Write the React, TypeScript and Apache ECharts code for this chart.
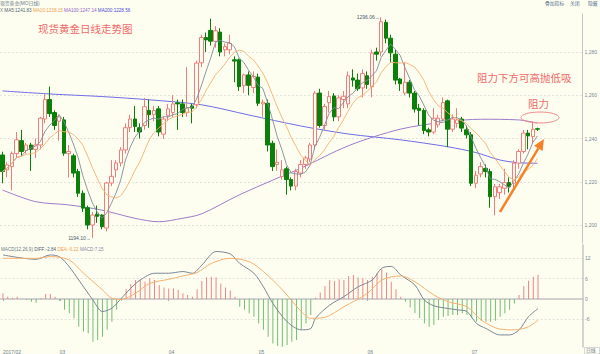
import React, { useEffect, useRef } from 'react';
import * as echarts from 'echarts';

// ---------- data ----------
const opens = [
  1232.4, 1225.5, 1227.0, 1233.0, 1239.0, 1234.5, 1237.0, 1235.0, 1237.0, 1249.0,
  1258.0, 1252.0, 1248.0, 1248.6, 1233.0, 1232.0, 1224.7, 1214.7, 1208.0, 1200.0,
  1205.0, 1204.6, 1198.6, 1219.4, 1225.5, 1228.7, 1234.7, 1245.0, 1249.0, 1245.0,
  1246.0, 1253.0, 1251.0, 1253.7, 1242.0, 1250.5, 1252.0, 1256.5, 1256.0, 1252.0,
  1255.0, 1255.6, 1275.0, 1286.7, 1290.0, 1284.9, 1289.2, 1281.0, 1281.0, 1276.4,
  1276.4, 1264.4, 1269.4, 1263.6, 1268.4, 1256.0, 1256.3, 1237.8, 1228.0, 1222.4,
  1226.0, 1221.0, 1218.0, 1224.0, 1228.0, 1230.5, 1237.0, 1261.0, 1246.0, 1256.6,
  1259.7, 1250.0, 1258.0, 1256.0, 1268.0, 1267.0, 1263.4, 1269.0, 1264.0, 1280.0,
  1280.0, 1293.7, 1286.4, 1279.0, 1267.5, 1261.0, 1266.0, 1261.0, 1254.0, 1253.0,
  1244.0, 1243.0, 1246.3, 1249.0, 1257.4, 1244.3, 1247.0, 1249.0, 1244.0, 1241.7,
  1219.3, 1223.6, 1226.2, 1224.7, 1213.1, 1215.0, 1217.0, 1219.6, 1219.3, 1228.6,
  1234.0, 1242.5, 1240.9, 1244.5,
];
const closes = [
  1224.7, 1227.8, 1233.0, 1239.4, 1234.0, 1237.0, 1235.0, 1237.0, 1249.4, 1258.0,
  1251.5, 1246.0, 1250.0, 1233.2, 1234.0, 1224.0, 1214.7, 1207.8, 1200.0, 1204.6,
  1204.0, 1199.2, 1219.4, 1222.5, 1228.7, 1234.7, 1245.0, 1249.0, 1245.6, 1243.0,
  1254.7, 1251.0, 1253.0, 1243.0, 1249.0, 1253.7, 1256.0, 1256.0, 1252.0, 1254.0,
  1254.0, 1274.9, 1286.7, 1285.6, 1285.0, 1289.8, 1280.0, 1282.5, 1284.0, 1275.8,
  1264.0, 1269.4, 1264.6, 1268.7, 1256.3, 1256.8, 1237.0, 1227.0, 1229.0, 1225.5,
  1221.0, 1218.0, 1224.7, 1228.0, 1231.0, 1237.0, 1261.0, 1246.0, 1254.8, 1259.4,
  1250.0, 1258.8, 1259.5, 1269.0, 1267.0, 1263.0, 1270.0, 1265.0, 1279.5, 1279.0,
  1294.0, 1286.4, 1279.6, 1267.0, 1265.3, 1266.0, 1261.0, 1253.6, 1253.0, 1243.7,
  1243.0, 1249.4, 1249.4, 1256.6, 1244.3, 1249.0, 1248.6, 1244.8, 1241.7, 1219.3,
  1223.0, 1227.0, 1224.7, 1213.1, 1217.7, 1217.7, 1219.6, 1217.7, 1228.6, 1234.0,
  1242.5, 1241.2, 1244.3, 1244.3,
];
const lows = [
  1219.3, 1222.0, 1216.0, 1231.0, 1232.0, 1233.0, 1225.0, 1231.0, 1235.0, 1247.0,
  1250.0, 1244.0, 1239.0, 1232.0, 1222.0, 1222.0, 1213.0, 1206.0, 1198.0, 1194.1,
  1201.0, 1198.0, 1197.0, 1218.0, 1222.0, 1227.0, 1233.0, 1243.0, 1243.0, 1240.0,
  1244.0, 1245.0, 1248.0, 1241.0, 1239.8, 1248.0, 1250.0, 1244.0, 1250.0, 1250.0,
  1247.0, 1254.0, 1273.0, 1280.0, 1283.0, 1282.0, 1278.0, 1278.0, 1279.0, 1266.0,
  1262.0, 1261.0, 1260.0, 1261.0, 1255.0, 1250.0, 1234.0, 1225.0, 1225.0, 1221.0,
  1214.0, 1216.0, 1216.0, 1222.0, 1226.0, 1229.0, 1235.0, 1245.0, 1244.0, 1252.0,
  1248.0, 1248.0, 1254.0, 1254.0, 1264.0, 1262.0, 1259.0, 1263.0, 1259.0, 1276.0,
  1278.0, 1284.0, 1275.0, 1265.0, 1262.0, 1260.0, 1259.0, 1252.0, 1246.0, 1242.0,
  1241.0, 1242.0, 1245.0, 1248.0, 1236.0, 1243.0, 1245.0, 1243.0, 1240.0, 1218.0,
  1217.0, 1222.0, 1222.0, 1208.0, 1204.5, 1212.0, 1214.0, 1215.0, 1216.0, 1226.0,
  1233.0, 1235.0, 1238.0, 1243.5,
];
const highs = [
  1233.9, 1229.0, 1234.0, 1243.0, 1244.0, 1238.0, 1238.0, 1240.0, 1250.0, 1260.6,
  1264.0, 1253.0, 1251.0, 1250.0, 1237.0, 1233.0, 1226.0, 1216.0, 1209.0, 1206.0,
  1209.0, 1205.0, 1220.0, 1230.0, 1230.0, 1236.0, 1247.0, 1251.0, 1255.0, 1247.0,
  1258.8, 1258.0, 1255.0, 1255.0, 1250.0, 1256.0, 1260.0, 1258.0, 1258.0, 1273.0,
  1256.0, 1276.0, 1288.0, 1289.0, 1295.4, 1292.0, 1291.0, 1284.0, 1288.0, 1278.0,
  1277.0, 1270.0, 1271.0, 1271.0, 1270.0, 1258.0, 1258.0, 1239.0, 1235.0, 1230.0,
  1227.0, 1222.0, 1226.0, 1230.0, 1232.0, 1238.0, 1262.0, 1263.0, 1256.0, 1262.0,
  1261.0, 1260.0, 1262.0, 1271.0, 1272.0, 1270.0, 1272.0, 1271.0, 1281.0, 1282.0,
  1296.06, 1295.0, 1288.0, 1281.0, 1268.0, 1275.0, 1267.0, 1262.0, 1256.0, 1254.0,
  1245.0, 1254.0, 1251.0, 1259.0, 1258.0, 1251.0, 1254.0, 1250.0, 1246.0, 1243.0,
  1225.0, 1229.0, 1228.0, 1226.0, 1219.0, 1219.0, 1226.0, 1222.0, 1230.0, 1235.0,
  1244.0, 1244.0, 1247.8, 1245.0,
];
// MA100 / MA200 read at sample candles: [candle index, value]
const ma100Points = [
  [0, 1216.2], [7, 1210.8], [14, 1209.3], [21, 1206.9], [28, 1203.1], [33, 1201.5],
  [38, 1203.1], [42, 1205.1], [50, 1213.9], [58, 1221.6], [63, 1226.2], [73, 1236.6],
  [84, 1244.3], [94, 1247.8], [101, 1248.9], [109, 1248.6], [113, 1247.14],
];
const ma200Points = [
  [0, 1262.0], [10, 1260.6], [21, 1259.4], [31, 1257.9], [42, 1255.6], [52, 1250.9],
  [63, 1245.8], [73, 1242.1], [84, 1239.4], [94, 1236.2], [100, 1233.5], [105, 1230.1],
  [109, 1228.8], [113, 1228.56],
];
// MACD histogram, one bar per candle
const macdHist = [
  1.7, 0.7, 0.4, 0.7, 0.1, -0.3, -0.8, -1.1, 0.3, 1.5,
  1.5, 0.7, -0.6, -3.2, -4.2, -5.7, -8.2, -9.6, -10.1, -12.6,
  -12.1, -11.1, -9.1, -6.7, -3.2, -0.5, 2.9, 4.4, 5.6, 5.8,
  5.1, 6.1, 5.6, 4.1, 3.4, 3.1, 3.1, 2.7, 1.7, 1.2,
  0.7, 2.9, 5.3, 6.4, 6.6, 6.4, 4.6, 3.4, 2.5, 0.7,
  -2.3, -3.2, -4.2, -5.2, -7.2, -9.1, -11.1, -13.1, -13.9, -14.1,
  -13.6, -12.6, -12.1, -9.1, -7.2, -4.7, 0.4, 1.9, 3.8, 5.6,
  5.3, 5.8, 5.6, 6.8, 7.1, 6.4, 6.1, 5.6, 6.6, 7.6,
  8.8, 7.8, 5.1, 2.9, 0.7, -0.8, -2.5, -4.2, -5.7, -7.2,
  -8.2, -7.7, -6.2, -5.2, -5.0, -4.7, -4.7, -4.2, -4.7, -5.7,
  -6.7, -6.4, -6.7, -6.7, -6.4, -5.2, -4.2, -3.2, -1.3, 1.2,
  3.8, 5.4, 6.6, 7.15,
];
const difPoints = [
  [0, 13.0], [7, 11.7], [10, 13.0], [12, 12.4], [14, 9.5], [16, 5.6], [19, -0.3],
  [21, -3.7], [23, -2.7], [25, 0.2], [27, 3.2], [29, 5.6], [32, 7.6], [35, 7.6],
  [38, 8.1], [40, 7.6], [42, 10.0], [45, 14.0], [48, 13.3], [50, 10.5], [53, 7.6],
  [55, 3.6], [57, -1.3], [60, -6.7], [63, -9.1], [65, -8.7], [66, -5.7], [69, -1.8],
  [72, 0.7], [75, 3.6], [78, 5.6], [80, 9.1], [82, 9.6], [84, 7.1], [87, 4.1],
  [89, -0.3], [91, -2.0], [94, -2.8], [96, -3.2], [98, -3.7], [100, -7.2], [102, -8.7],
  [105, -10.6], [107, -10.6], [109, -9.1], [111, -5.2], [113, -2.84],
];
const deaPoints = [
  [0, 12.0], [7, 12.0], [10, 12.5], [14, 11.5], [17, 7.6], [21, 2.7], [23, 0.2],
  [25, -0.1], [28, 1.7], [31, 4.6], [35, 5.8], [38, 6.8], [41, 7.8], [44, 10.5],
  [48, 12.0], [52, 11.0], [55, 8.1], [59, 2.7], [63, -3.7], [65, -5.7], [68, -5.4],
  [72, -2.3], [77, 1.7], [80, 5.6], [84, 6.8], [87, 5.1], [91, 1.2], [94, -0.8],
  [98, -2.3], [101, -6.2], [105, -8.9], [108, -9.1], [111, -8.2], [113, -6.22],
];
const monthTicks: Record<number, string> = { 0: '2017/02', 12: '03', 35: '04', 54: '05', 77: '06', 99: '07' };
const priceTicks = [1200, 1220, 1240, 1260, 1280];
const macdTicks = [12, 6, 0, -6];
const SLOTS = 123;

// ---------- helpers ----------
function movingAvg(n: number) {
  return closes.map((_, i) => {
    const s = Math.max(0, i - n + 1);
    let sum = 0;
    for (let j = s; j <= i; j++) sum += closes[j];
    return +(sum / (i - s + 1)).toFixed(2);
  });
}

const BG = '#FEFEF0';
const UP = '#F27C7C';
const DOWN = '#0A800A';
const CJK = '"Noto Sans CJK SC", "DejaVu Sans", sans-serif';
const SMALL = '"Liberation Sans", "Noto Sans CJK SC", sans-serif';

export default function App() {
  const ref = useRef<HTMLDivElement>(null);
  useEffect(() => {
    if (!ref.current) return;
    const chart = echarts.init(ref.current, null, { renderer: 'svg' });
    const cats = Array.from({ length: SLOTS }, (_, i) => String(i));
    const ma5 = movingAvg(5);
    const ma10 = movingAvg(10);
    const candle = opens.map((o, i) => [o, closes[i], lows[i], highs[i]]);
    const showTick = (i: number) => monthTicks[i] !== undefined;

    const arrowFrom = [500, 212];
    const arrowTip = [544, 139];
    const dx = arrowTip[0] - arrowFrom[0];
    const dy = arrowTip[1] - arrowFrom[1];
    const len = Math.sqrt(dx * dx + dy * dy);
    const ux = dx / len, uy = dy / len;
    const bx = arrowTip[0] - ux * 11, by = arrowTip[1] - uy * 11;
    const px = -uy, py = ux;

    const smallText = (x: number, y: number, text: string, fill: string, size = 5) => ({
      type: 'text', x, y, z: 50,
      style: { text, fill, fontSize: size, fontFamily: SMALL, textVerticalAlign: 'middle' },
    });
    const richRow = (x: number, y: number, text: string, rich: Record<string, string>) => {
      const r: Record<string, any> = {};
      Object.keys(rich).forEach((k) => {
        r[k] = { fill: rich[k], fontSize: 4.6, fontFamily: SMALL };
      });
      return {
        type: 'text', x, y, z: 50,
        style: { text, rich: r, fontSize: 4.6, fontFamily: SMALL, textVerticalAlign: 'middle' },
      };
    };

    chart.setOption({
      animation: false,
      backgroundColor: BG,
      grid: [
        { left: 0, right: 17, top: 14, height: 229 },
        { left: 0, right: 17, top: 245, height: 102 },
      ],
      xAxis: [
        {
          type: 'category', gridIndex: 0, data: cats, boundaryGap: true,
          axisLine: { show: false }, axisTick: { show: false }, axisLabel: { show: false },
          splitLine: { show: false },
        },
        {
          type: 'category', gridIndex: 1, data: cats, boundaryGap: true,
          axisLine: { show: true, lineStyle: { color: '#C4C4C4', width: 1.5 } },
          axisTick: { show: true, interval: (i: number) => showTick(i), length: 2, alignWithLabel: true, lineStyle: { color: '#A8B0B8' } },
          axisLabel: {
            show: true, interval: (i: number) => showTick(i),
            formatter: (_v: string, i: number) => monthTicks[i] ?? '',
            align: 'left', fontSize: 5, color: '#6E7E8E', margin: 2, fontFamily: SMALL,
          },
          splitLine: { show: false },
        },
      ],
      yAxis: [
        {
          type: 'value', gridIndex: 0, position: 'right', min: 1191.68, max: 1297.57, scale: true,
          axisLine: { show: true, lineStyle: { color: '#C4C4C4' } },
          axisTick: { show: false, customValues: priceTicks },
          axisLabel: { customValues: priceTicks, fontSize: 5, color: '#7A8A9A', margin: 2, fontFamily: SMALL },
          splitLine: { show: true, lineStyle: { color: '#DADADA', type: [2, 2], width: 0.8 } },
        },
        {
          type: 'value', gridIndex: 1, position: 'right', min: -14.16, max: 15.93,
          axisLine: { show: true, lineStyle: { color: '#C4C4C4', width: 1.5 } },
          axisTick: { show: false, customValues: macdTicks },
          axisLabel: { customValues: macdTicks, fontSize: 5, color: '#7A8A9A', margin: 2, fontFamily: SMALL },
          splitLine: { show: true, lineStyle: { color: '#DADADA', type: [2, 2], width: 0.8 } },
        },
      ],
      series: [
        {
          type: 'line', name: 'MA200', xAxisIndex: 0, yAxisIndex: 0, data: ma200Points,
          smooth: 0.3, showSymbol: false, symbol: 'none', lineStyle: { color: '#6E6EE6', width: 1 }, z: 1,
        },
        {
          type: 'line', name: 'MA100', xAxisIndex: 0, yAxisIndex: 0, data: ma100Points,
          smooth: 0.3, showSymbol: false, symbol: 'none', lineStyle: { color: '#9C7CCC', width: 1 }, z: 1,
        },
        {
          type: 'candlestick', xAxisIndex: 0, yAxisIndex: 0, data: candle, barWidth: 4, z: 3,
          itemStyle: { color: BG, color0: DOWN, borderColor: UP, borderColor0: DOWN, borderWidth: 1 },
          markPoint: {
            symbol: 'rect', symbolSize: 1,
            itemStyle: { color: 'rgba(0,0,0,0)' },
            label: {
              show: true, position: 'left', distance: 1, fontSize: 5, color: '#4A5A6E', fontFamily: SMALL,
              formatter: (p: any) => Number(p.value).toFixed(2) + '\u2192',
            },
            data: [
              { type: 'max', valueDim: 'highest' },
              { type: 'min', valueDim: 'lowest' },
            ],
          },
        },
        {
          type: 'line', name: 'MA5', xAxisIndex: 0, yAxisIndex: 0, data: ma5,
          showSymbol: false, symbol: 'none', lineStyle: { color: '#808C9A', width: 0.9 }, z: 4,
        },
        {
          type: 'line', name: 'MA10', xAxisIndex: 0, yAxisIndex: 0, data: ma10,
          showSymbol: false, symbol: 'none', lineStyle: { color: '#F6B070', width: 0.9 }, z: 4,
        },
        {
          type: 'bar', xAxisIndex: 1, yAxisIndex: 1, barWidth: 1,
          data: macdHist.map((v) => ({ value: v, itemStyle: { color: v >= 0 ? '#F08484' : '#72BE72' } })),
        },
        {
          type: 'line', name: 'DIFF', xAxisIndex: 1, yAxisIndex: 1, data: difPoints,
          smooth: 0.3, showSymbol: false, symbol: 'none', lineStyle: { color: '#7A8694', width: 1 }, z: 4,
        },
        {
          type: 'line', name: 'DEA', xAxisIndex: 1, yAxisIndex: 1, data: deaPoints,
          smooth: 0.3, showSymbol: false, symbol: 'none', lineStyle: { color: '#F6B070', width: 1 }, z: 4,
        },
      ],
      graphic: [
        smallText(0, 3, '现货黄金(MO日线)', '#6A7A8C', 4.8),
        richRow(0, 10, '{k|X} {a|MA5:1241.83} {b|MA10:1238.15} {c|MA100:1247.14} {d|MA200:1228.56}', {
          k: '#6A7A8C', a: '#4E5E72', b: '#F0A04C', c: '#8E62C8', d: '#4A4AD8',
        }),
        smallText(545, 3, '叠加指标', '#4E6E90', 4.8),
        smallText(570, 3, '关闭', '#4E6E90', 4.8),
        smallText(588, 3, '隐藏', '#4E6E90', 4.8),
        richRow(1, 249, '{m|MACD(12,26,9)} {a|DIFF:-2.84} {b|DEA:-6.22} {c|MACD:7.15}', {
          m: '#6A7A8C', a: '#4E5E72', b: '#F0A04C', c: '#8A8AA8',
        }),
        smallText(586, 350.5, '日线', '#6A7A8C', 4.8),
        {
          type: 'rect', z: 49, shape: { x: 584.5, y: 347.5, width: 15, height: 6.5 },
          style: { fill: 'none', stroke: '#B8C0C8', lineWidth: 0.6 },
        },
        {
          type: 'text', x: 38, y: 28, z: 50,
          style: { text: '现货黄金日线走势图', fill: '#F06A6A', fontSize: 10.5, fontFamily: CJK, textVerticalAlign: 'middle' },
        },
        {
          type: 'text', x: 477, y: 77.5, z: 50,
          style: { text: '阻力下方可高抛低吸', fill: '#F06A6A', fontSize: 10.5, fontFamily: CJK, textVerticalAlign: 'middle' },
        },
        {
          type: 'text', x: 528, y: 103, z: 50,
          style: { text: '阻力', fill: '#F06A6A', fontSize: 10.5, fontFamily: CJK, textVerticalAlign: 'middle' },
        },
        {
          type: 'ellipse', z: 50, shape: { cx: 540, cy: 117.5, rx: 19, ry: 5.5 },
          style: { fill: 'none', stroke: '#F28A8A', lineWidth: 1 },
        },
        {
          type: 'line', z: 60,
          shape: { x1: arrowFrom[0], y1: arrowFrom[1], x2: bx, y2: by },
          style: { stroke: '#F5822A', lineWidth: 2.5 },
        },
        {
          type: 'polygon', z: 60,
          shape: {
            points: [
              [arrowTip[0], arrowTip[1]],
              [bx + px * 5, by + py * 5],
              [bx - px * 5, by - py * 5],
            ],
          },
          style: { fill: '#F5822A' },
        },
      ],
    });
    return () => chart.dispose();
  }, []);
  return (
    <div
      ref={ref}
      style={{ position: 'absolute', left: 0, top: 0, width: 600, height: 354 }}
    />
  );
}
